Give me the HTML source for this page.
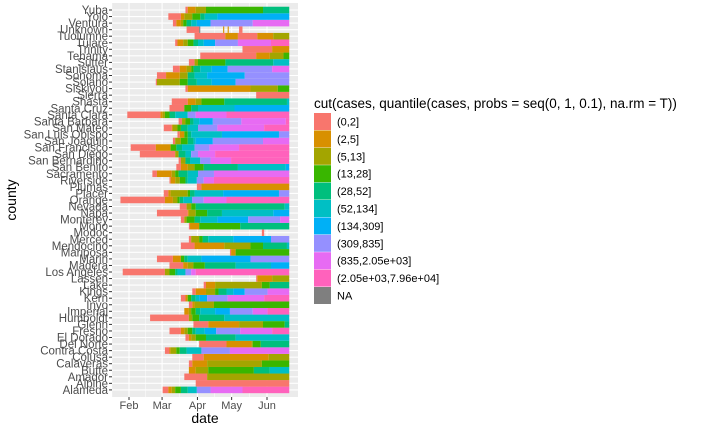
<!DOCTYPE html>
<html><head><meta charset="utf-8">
<style>
body{margin:0;background:#fff;}
svg{display:block;font-family:"Liberation Sans",sans-serif;}
</style></head>
<body>
<svg id="chart" width="720" height="432" viewBox="0 0 720 432" xmlns="http://www.w3.org/2000/svg">
<rect x="112" y="3" width="186" height="394" fill="#ebebeb"/>
<g id="grid"></g><g id="tiles"></g><g id="yaxis"></g><g id="xaxis"></g>
<text x="205" y="423" font-size="14" text-anchor="middle" fill="#000">date</text>
<text transform="translate(16,200) rotate(-90)" font-size="14" text-anchor="middle" fill="#000">county</text>
<g id="legend">
<text x="314" y="108" font-size="13.5" fill="#000">cut(cases, quantile(cases, probs = seq(0, 1, 0.1), na.rm = T))</text>
</g>
</svg>
<script>
const counties=["Alameda","Alpine","Amador","Butte","Calaveras","Colusa","Contra Costa","Del Norte","El Dorado","Fresno","Glenn","Humboldt","Imperial","Inyo","Kern","Kings","Lake","Lassen","Los Angeles","Madera","Marin","Mariposa","Mendocino","Merced","Modoc","Mono","Monterey","Napa","Nevada","Orange","Placer","Plumas","Riverside","Sacramento","San Benito","San Bernardino","San Diego","San Francisco","San Joaquin","San Luis Obispo","San Mateo","Santa Barbara","Santa Clara","Santa Cruz","Shasta","Sierra","Siskiyou","Solano","Sonoma","Stanislaus","Sutter","Tehama","Trinity","Tulare","Tuolumne","Unknown","Ventura","Yolo","Yuba"];
const categories=["(0,2]","(2,5]","(5,13]","(13,28]","(28,52]","(52,134]","(134,309]","(309,835]","(835,2.05e+03]","(2.05e+03,7.96e+04]","NA"];
const colors=["#F8766D","#D89000","#A3A500","#39B600","#00BF7D","#00BFC4","#00B0F6","#9590FF","#E76BF3","#FF62BC","#7F7F7F"];
const tickDays=[31,60,91,121,152];
const tickLabels=["Feb","Mar","Apr","May","Jun"];
const lastDay=172;
// segments per county: [startDay, category, ...]; category -1 = no data
const segments={
"Alameda":[61,0,66,1,69,2,72,3,77,4,83,5,91,7,103,8,131,9],
"Alpine":[90,0],
"Amador":[80,0,100,2],
"Butte":[84,1,90,2,101,3,141,4,155,5],
"Calaveras":[84,0,87,1,100,2,148,3],
"Colusa":[87,0,97,1,154,2],
"Contra Costa":[63,0,67,1,68,2,73,3,76,4,82,5,95,7,120,8],
"Del Norte":[93,0,117,1,139,2,140,3,147,4],
"El Dorado":[81,0,84,1,86,2,90,3,99,4,125,5],
"Fresno":[67,0,77,1,80,2,83,3,87,4,90,5,98,6,108,7,129,8,157,9],
"Glenn":[88,0,101,1,128,2,149,3,168,4],
"Humboldt":[50,0,84,2,87,3,93,4,115,5],
"Imperial":[80,1,84,2,86,3,90,4,94,5,107,6,120,7,140,8,153,9],
"Inyo":[84,0,87,1,89,2,106,3],
"Kern":[77,0,81,1,83,3,86,4,90,5,93,6,100,7,118,8,150,9],
"Kings":[87,0,90,1,99,2,107,3,110,4,117,5,123,6,133,7,153,8],
"Lake":[97,0,99,1,107,2,148,3,155,4],
"Lassen":[143,0,144,1,157,2],
"Los Angeles":[26,0,63,2,67,3,72,4,74,5,81,7,86,8,90,9],
"Madera":[67,0,79,1,83,2,88,3,98,4,125,5,156,6],
"Marin":[56,0,70,1,77,3,80,4,83,5,95,6,138,7],
"Mariposa":[120,0,121,1,125,3],
"Mendocino":[77,0,89,1,115,2,138,3,149,4,170,5],
"Merced":[84,0,86,2,93,3,96,4,101,5,123,6,156,7],
"Modoc":[148,0,150,-1],
"Mono":[84,0,85,1,93,3,129,4],
"Monterey":[77,0,80,2,82,3,89,4,94,5,109,6,136,7,164,8],
"Napa":[56,0,83,1,84,2,90,3,100,4,113,5,158,6],
"Nevada":[76,0,82,2,86,3,90,4,168,5],
"Orange":[24,0,63,1,70,2,74,3,76,4,79,5,87,7,97,8,117,9],
"Placer":[62,0,66,1,68,2,83,3,85,4,89,5,114,6,163,7],
"Plumas":[91,0,95,1],
"Riverside":[67,0,68,1,72,2,76,3,81,4,83,5,91,7,97,8,106,9],
"Sacramento":[52,0,56,1,69,2,72,3,75,4,83,5,92,7,106,8],
"San Benito":[73,0,77,1,83,2,89,3,97,4,127,5,169,6],
"San Bernardino":[75,0,77,2,81,4,85,5,94,7,103,8,121,9],
"San Diego":[41,0,72,2,75,4,81,5,86,7,92,8,107,9],
"San Francisco":[33,0,55,1,68,3,73,4,78,5,89,7,102,8,128,9],
"San Joaquin":[70,0,72,2,77,3,83,4,88,5,90,6,105,7,149,8],
"San Luis Obispo":[74,0,76,1,80,3,83,4,86,5,113,6,163,7],
"San Mateo":[62,0,69,1,70,2,74,3,77,4,83,5,92,7,109,8,150,9],
"Santa Barbara":[75,0,78,2,81,3,85,4,88,5,93,6,105,7,130,8,169,9],
"Santa Clara":[30,0,59,1,61,2,63,3,67,4,72,5,83,7,90,8,117,9],
"Santa Cruz":[67,0,80,3,86,4,92,5,124,6],
"Shasta":[69,0,83,1,90,2,95,3,115,4,170,5],
"Sierra":[143,0],
"Siskiyou":[81,0,83,1,138,2,162,3],
"Solano":[55,0,56,2,76,3,83,4,91,5,104,6,125,7],
"Sonoma":[56,0,64,1,76,2,83,4,89,5,100,6,133,7],
"Stanislaus":[70,0,76,1,82,2,86,3,88,4,94,5,104,6,118,7,157,8],
"Sutter":[84,0,89,2,92,3,116,4,158,5],
"Tehama":[94,0,143,1,155,2,167,3],
"Trinity":[131,0,157,1],
"Tulare":[72,0,74,1,79,2,83,3,88,4,92,5,97,6,107,7,127,8,156,9],
"Tuolumne":[89,0,116,1,127,0,144,1,158,2],
"Unknown":[82,0,93,10,94,-1,114,1,115,-1,118,1,119,-1,128,0,131,-1],
"Ventura":[70,0,73,1,77,2,79,3,82,4,86,5,91,6,103,7,140,8],
"Yolo":[66,0,77,1,80,2,87,3,94,4,98,5,109,6],
"Yuba":[81,0,83,1,90,2,99,3,149,4]
};
const NS="http://www.w3.org/2000/svg";
const X0=129,PXD=1.1405,ROW=6.55,YTOP=10;
function xScale(d){return X0+(d-31)*PXD;}
function yScale(name){const i=counties.length-1-counties.indexOf(name);return YTOP+i*ROW;}
function mk(tag,attrs,parent){const e=document.createElementNS(NS,tag);for(const k in attrs)e.setAttribute(k,attrs[k]);parent.appendChild(e);return e;}
const grid=document.getElementById('grid'),tiles=document.getElementById('tiles'),yax=document.getElementById('yaxis'),xax=document.getElementById('xaxis'),leg=document.getElementById('legend');
// grid
for(let i=0;i<tickDays.length;i++){
  const x=xScale(tickDays[i]);
  const g=mk('line',{x1:x,x2:x,y1:3,y2:397,stroke:'#fff','stroke-width':1.1},grid);
  
  
  if(i<tickDays.length-1){const xm=xScale((tickDays[i]+tickDays[i+1])/2);
    const m=mk('line',{x1:xm,x2:xm,y1:3,y2:397,stroke:'#fff','stroke-width':0.5},grid);
    
    }
  const t=mk('text',{x:x,y:409,'font-size':11,'text-anchor':'middle',fill:'#4d4d4d'},xax);
  t.textContent=tickLabels[i];
  
  
  const tk=mk('line',{x1:x,x2:x,y1:397,y2:400,stroke:'#333'},xax);
  
  
}
const xm0=xScale(tickDays[0]-15);
const m0=mk('line',{x1:xm0,x2:xm0,y1:3,y2:397,stroke:'#fff','stroke-width':0.5},grid);


counties.forEach(c=>{
  const y=yScale(c);
  const gl=mk('line',{x1:112,x2:298,y1:y,y2:y,stroke:'#fff','stroke-width':1.1},grid);
  
  
  const t=mk('text',{x:108,y:y+4,'font-size':11.5,'text-anchor':'end',fill:'#4d4d4d'},yax);
  t.textContent=c;
  
  
  const tk=mk('line',{x1:109,x2:112,y1:y,y2:y,stroke:'#333'},yax);
  
  
  const s=segments[c];
  for(let j=0;j<s.length;j+=2){
    const cat=s[j+1]; if(cat<0)continue;
    const d0=s[j], d1=(j+2<s.length)?s[j+2]:lastDay;
    const r=mk('rect',{x:xScale(d0-0.5),y:y-ROW/2,width:Math.max(0.5,(d1-d0)*PXD),height:ROW,fill:colors[cat]},tiles);
    
    
  }
});
categories.forEach((cat,i)=>{
  const y=113+i*17.4;
  const k=mk('rect',{x:314,y:y,width:17,height:17,fill:colors[i]},leg);
  
  
  const t=mk('text',{x:337,y:y+12.5,'font-size':11,fill:'#000'},leg);
  t.textContent=cat;
  
  
});
</script>
</body></html>
